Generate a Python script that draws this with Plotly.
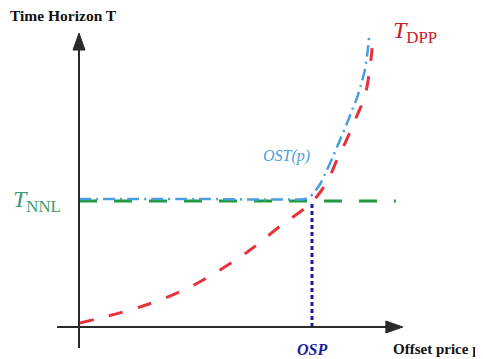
import plotly.graph_objects as go

# Data (price units: OSP = 1 ; time units: T_NNL = 1)
dpp_price = [0.004, 0.09, 0.219, 0.348, 0.476, 0.605, 0.734, 0.863, 1.0, 1.064, 1.107, 1.142, 1.185, 1.228, 1.249, 1.258]
dpp_time  = [0.032, 0.071, 0.135, 0.214, 0.317, 0.452, 0.611, 0.80, 0.992, 1.151, 1.325, 1.46, 1.643, 1.841, 2.064, 2.214]

ost_price = [0.0, 0.5, 0.97, 0.99, 1.01, 1.035, 1.064, 1.093, 1.12, 1.14, 1.159, 1.176, 1.193, 1.21, 1.227, 1.237, 1.245]
ost_time  = [1.016, 1.016, 1.016, 1.03, 1.07, 1.135, 1.246, 1.365, 1.484, 1.57, 1.659, 1.74, 1.817, 1.92, 2.04, 2.16, 2.302]

nnl_price = [0.0, 1.36]
nnl_time = [1.0, 1.0]

osp_price = [1.0, 1.0]
osp_time = [0.0, 1.0]

x_axis_label = "Offset price p"
y_axis_label = "Time Horizon T"

# page offset of 8px (body margin) compensated
W, H = 475, 351
XR = [-0.3047, 1.7339]
YR = [-0.254, 2.5317]

def px(x):
    return (x - 8) / W

def py(y):
    return 1 - (y - 8) / H

fig = go.Figure()

fig.add_trace(go.Scatter(x=nnl_price, y=nnl_time, mode="lines",
                         line=dict(color="#1f9a3c", width=3, dash="18px,17px")))
fig.add_trace(go.Scatter(x=ost_price, y=ost_time, mode="lines", line_shape="spline",
                         line=dict(color="#4a9fe0", width=2.5, dash="12px,5px,2px,5px", smoothing=0.6)))
fig.add_trace(go.Scatter(x=dpp_price, y=dpp_time, mode="lines", line_shape="spline",
                         line=dict(color="#e6323c", width=3, dash="14px,16px")))
fig.add_trace(go.Scatter(x=osp_price, y=osp_time, mode="lines",
                         line=dict(color="#1a1aa0", width=3, dash="4px,3px")))

axis_col = "#2a2a2a"
# axes lines
fig.add_shape(type="line", x0=-0.094, y0=0, x1=1.33, y1=0, xref="x", yref="y",
              line=dict(color=axis_col, width=2))
fig.add_shape(type="line", x0=0, y0=-0.167, x1=0, y1=2.22, xref="x", yref="y",
              line=dict(color=axis_col, width=2))
# arrowheads (pixel-sized)
fig.add_shape(type="path", xref="x", yref="y", xsizemode="pixel", ysizemode="pixel",
              xanchor=1.39, yanchor=0, path="M 0,0 L -17,6 L -17,-6 Z",
              fillcolor=axis_col, line=dict(color=axis_col, width=1))
fig.add_shape(type="path", xref="x", yref="y", xsizemode="pixel", ysizemode="pixel",
              xanchor=0, yanchor=2.333, path="M 0,0 L -6,-17 L 6,-17 Z",
              fillcolor=axis_col, line=dict(color=axis_col, width=1))

serif = "Liberation Serif, Times New Roman, serif"
fig.add_annotation(x=px(8), y=py(16), xref="paper", yref="paper", text="<b>" + y_axis_label + "</b>",
                   showarrow=False, xanchor="left", yanchor="middle",
                   font=dict(family=serif, size=15.5, color="#111"))
fig.add_annotation(x=px(391), y=py(349), xref="paper", yref="paper", text="<b>" + x_axis_label + "</b>",
                   showarrow=False, xanchor="left", yanchor="middle",
                   font=dict(family=serif, size=15, color="#111"))
fig.add_annotation(x=1.0, y=-0.18, xref="x", yref="y", text="<b><i>OSP</i></b>",
                   showarrow=False, font=dict(family=serif, size=16, color="#1a1aa0"))
fig.add_annotation(x=0.89, y=1.36, xref="x", yref="y", text="<i>OST(p)</i>",
                   showarrow=False, font=dict(family=serif, size=16, color="#4a9fe0"))
fig.add_annotation(x=-0.29, y=1.0, xref="x", yref="y", text="<i>T</i><sub>NNL</sub>",
                   showarrow=False, xanchor="left", font=dict(family=serif, size=24, color="#3d9a70"))
fig.add_annotation(x=1.34, y=2.34, xref="x", yref="y", text="<i>T</i><sub>DPP</sub>",
                   showarrow=False, xanchor="left", font=dict(family=serif, size=24, color="#c8202a"))

fig.update_layout(width=W, height=H, margin=dict(l=0, r=0, t=0, b=0),
                  paper_bgcolor="white", plot_bgcolor="white", showlegend=False,
                  xaxis=dict(range=XR, visible=False, fixedrange=True),
                  yaxis=dict(range=YR, visible=False, fixedrange=True))

fig.write_html("out.html")
